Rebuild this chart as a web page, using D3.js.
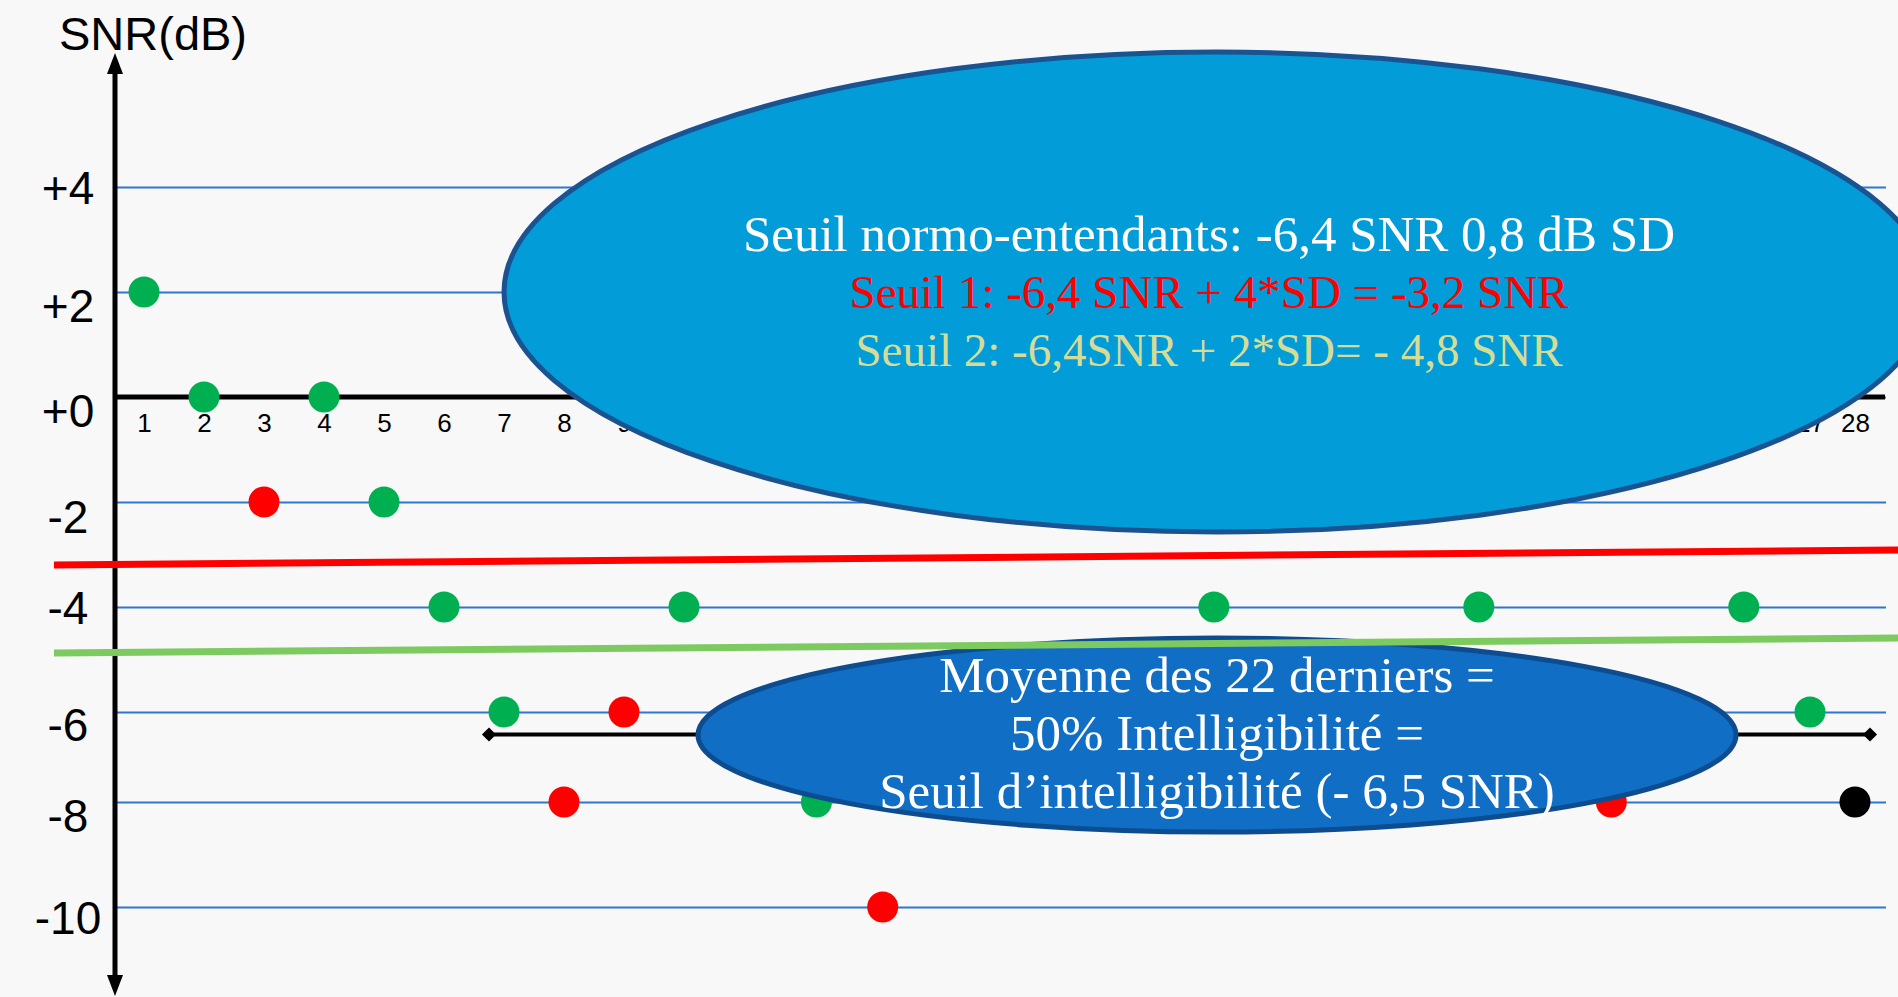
<!DOCTYPE html>
<html>
<head>
<meta charset="utf-8">
<script src="https://cdn.jsdelivr.net/npm/d3@7"></script>
<style>
  html, body { margin: 0; padding: 0; background: #f8f8f8; overflow: hidden; }
  svg { display: block; }
</style>
</head>
<body>
<svg id="chart" width="1898" height="997"></svg>
<script>
// ---------------- DATA ----------------
const trials = [1, 2, 3, 4, 5, 6, 7, 8, 9, 10, 11, 12, 13, 14, 15, 16, 17, 18, 19, 20, 21, 22, 23, 24, 25, 26, 27, 28];
const snrValues = [2, 0, -2, 0, -2, -4, -6, -8, -6, -4, -6, -8, -10, -8, -6, -8, -6, -4, -6, -8, -6, -4, -6, -8, -6, -4, -6, -8];
const responses = ["correct", "correct", "incorrect", "correct", "correct", "correct", "correct", "incorrect", "incorrect", "correct",
                   "correct", "correct", "incorrect", "incorrect", "correct", "incorrect", "incorrect", "correct", "correct", "incorrect",
                   "incorrect", "correct", "correct", "incorrect", "incorrect", "correct", "correct", "final"];
const yTickValues = [4, 2, 0, -2, -4, -6, -8, -10];
const yTickLabels = ["+4", "+2", "+0", "-2", "-4", "-6", "-8", "-10"];
const xTickLabels = ["1","2","3","4","5","6","7","8","9","10","11","12","13","14","15","16","17","18","19","20","21","22","23","24","25","26","27","28"];
const axisTitle = "SNR(dB)";
const seuil1 = -3.2;          // -6,4 + 4*0,8
const seuil2 = -4.8;          // -6,4 + 2*0,8
const meanLast22 = -6.5;      // seuil d'intelligibilité
const meanTrialRange = [7, 28];
const topLines = [
  { text: "Seuil normo-entendants: -6,4 SNR 0,8 dB SD", color: "#ffffff" },
  { text: "Seuil 1: -6,4 SNR + 4*SD = -3,2 SNR", color: "#ff0000" },
  { text: "Seuil 2: -6,4SNR + 2*SD= - 4,8 SNR", color: "#d5dc96" }
];
const bottomLines = [
  "Moyenne des 22 derniers =",
  "50% Intelligibilité =",
  "Seuil d\u2019intelligibilité (- 6,5 SNR)"
];
const responseColors = { correct: "#00b050", incorrect: "#ff0000", final: "#000000" };

// ---------------- STYLE / LAYOUT ----------------
const W = 1898, H = 997;
const axisX = 115, gridRight = 1886;
const yLabelShift = [0, 13, 13, 14, 0, 12, 13, 10];   // hand-placed label boxes in the slide
const topFont = [51, 47, 47];
const svg = d3.select("#chart");

const x = d3.scaleLinear().domain([1, 10, 27, 28]).range([144, 684, 1810, 1855]);
const y = d3.scaleLinear().domain([4, -6, -8, -10]).range([187, 712, 802, 907]);

svg.append("rect").attr("width", W).attr("height", H).attr("fill", "#f8f8f8");

// Y axis with gridlines
const yAxis = d3.axisLeft(y)
  .tickValues(yTickValues)
  .tickFormat((d, i) => yTickLabels[i])
  .tickSizeInner(-(gridRight - axisX))
  .tickSizeOuter(0)
  .tickPadding(0);
const gy = svg.append("g").attr("transform", `translate(${axisX},0)`).call(yAxis);
gy.select(".domain").remove();
gy.selectAll(".tick line").attr("stroke", "#2f76d2").attr("stroke-width", 2);
gy.selectAll(".tick text")
  .attr("x", -47).attr("dy", (d, i) => yLabelShift[i])
  .attr("text-anchor", "middle")
  .attr("dominant-baseline", "central")
  .attr("fill", "#000")
  .style("font-family", "'Liberation Sans', Arial, sans-serif")
  .style("font-size", "46px");

// X axis line (at 0)
svg.append("line")
  .attr("x1", axisX - 2).attr("x2", 1885)
  .attr("y1", y(0)).attr("y2", y(0))
  .attr("stroke", "#000").attr("stroke-width", 5);

// X tick labels via axis
const xAxis = d3.axisBottom(x)
  .tickValues(trials)
  .tickFormat((d, i) => xTickLabels[i])
  .tickSize(0)
  .tickPadding(17);
const gx = svg.append("g").attr("transform", `translate(0,${y(0)})`).call(xAxis);
gx.select(".domain").remove();
gx.selectAll(".tick text")
  .attr("fill", "#000")
  .style("font-family", "'Liberation Sans', Arial, sans-serif")
  .style("font-size", "26px");

// Y axis line with arrows
svg.append("line")
  .attr("x1", axisX).attr("x2", axisX)
  .attr("y1", 66).attr("y2", 984)
  .attr("stroke", "#000").attr("stroke-width", 5);
svg.append("path")
  .attr("d", `M${axisX},53 L${axisX - 8},74 L${axisX + 8},74 Z`)
  .attr("fill", "#000");
svg.append("path")
  .attr("d", `M${axisX},996 L${axisX - 8},975 L${axisX + 8},975 Z`)
  .attr("fill", "#000");

// Axis title
svg.append("text")
  .attr("x", 59).attr("y", 50)
  .style("font-family", "'Liberation Sans', Arial, sans-serif")
  .style("font-size", "47px")
  .attr("fill", "#000")
  .text(axisTitle);

// Threshold lines (slightly tilted as in the slide)
const tilt = 15;
svg.append("line")
  .attr("x1", 54).attr("x2", W)
  .attr("y1", y(seuil1)).attr("y2", y(seuil1) - tilt)
  .attr("stroke", "#ff0000").attr("stroke-width", 7);

// Bracket for mean of last 22
const bracketPad = 15;
const bx1 = x(meanTrialRange[0]) - bracketPad, bx2 = x(meanTrialRange[1]) + bracketPad;
svg.append("line")
  .attr("x1", bx1).attr("x2", bx2)
  .attr("y1", y(meanLast22)).attr("y2", y(meanLast22))
  .attr("stroke", "#000").attr("stroke-width", 4);
[bx1, bx2].forEach(bx => {
  svg.append("path")
    .attr("d", d3.symbol().type(d3.symbolSquare).size(100)())
    .attr("transform", `translate(${bx},${y(meanLast22)}) rotate(45)`)
    .attr("fill", "#000");
});

// Points
const pts = trials.map((t, i) => ({ t, v: snrValues[i], r: responses[i] }));
svg.append("g").selectAll("circle")
  .data(pts).join("circle")
  .attr("cx", d => x(d.t))
  .attr("cy", d => y(d.v))
  .attr("r", 15.5)
  .attr("fill", d => responseColors[d.r]);

// Upper ellipse
svg.append("ellipse")
  .attr("cx", 1217).attr("cy", 292).attr("rx", 713).attr("ry", 240)
  .attr("fill", "#029dd8").attr("stroke", "#1b5391").attr("stroke-width", 5);
const topBase = [251, 308, 366];
svg.append("g").selectAll("text")
  .data(topLines).join("text")
  .attr("x", 1209).attr("y", (d, i) => topBase[i])
  .attr("text-anchor", "middle")
  .attr("fill", d => d.color)
  .style("font-family", "'Liberation Serif', 'Times New Roman', serif")
  .style("font-size", (d, i) => topFont[i] + "px")
  .text(d => d.text);

// Lower ellipse
svg.append("ellipse")
  .attr("cx", 1217).attr("cy", 735).attr("rx", 519).attr("ry", 97)
  .attr("fill", "#106ec4").attr("stroke", "#0d4c8e").attr("stroke-width", 5);

// Green threshold line (over the lower ellipse)
svg.append("line")
  .attr("x1", 54).attr("x2", W)
  .attr("y1", y(seuil2) + 4).attr("y2", y(seuil2) + 4 - tilt)
  .attr("stroke", "#7dca60").attr("stroke-width", 7);

const botBase = [692, 750, 808];
svg.append("g").selectAll("text")
  .data(bottomLines).join("text")
  .attr("x", 1217).attr("y", (d, i) => botBase[i])
  .attr("text-anchor", "middle")
  .attr("fill", "#ffffff")
  .style("font-family", "'Liberation Serif', 'Times New Roman', serif")
  .style("font-size", "51px")
  .text(d => d);
</script>
</body>
</html>
